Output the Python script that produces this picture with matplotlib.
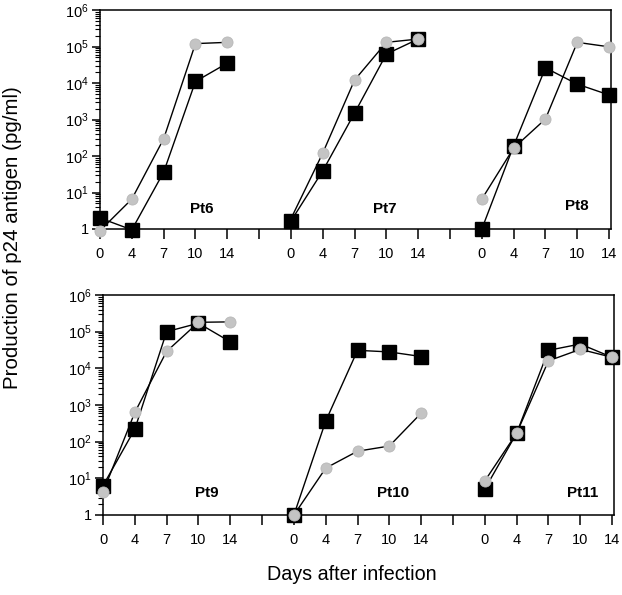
import matplotlib
matplotlib.use("Agg")
import matplotlib.pyplot as plt
import numpy as np
from matplotlib.ticker import FixedLocator, FixedFormatter, LogLocator, NullFormatter

plt.rcParams['font.family'] = ['Liberation Sans', 'DejaVu Sans']
plt.rcParams['mathtext.fontset'] = 'custom'
plt.rcParams['mathtext.rm'] = 'Liberation Sans'
plt.rcParams['mathtext.default'] = 'regular'

days = [0, 4, 7, 10, 14]
day_labels = ['0', '4', '7', '10', '14']
y_tick_values = [1, 1e1, 1e2, 1e3, 1e4, 1e5, 1e6]
y_tick_labels = ['1', '$10^1$', '$10^2$', '$10^3$', '$10^4$', '$10^5$', '$10^6$']

top_patients = ['Pt6', 'Pt7', 'Pt8']
top_black = [
    [2.0, 0.95, 36, 1.1e4, 3.5e4],
    [1.65, 39, 1500, 6.2e4, 1.6e5],
    [1.0, 190, 2.6e4, 9.3e3, 4.7e3],
]
top_gray = [
    [0.9, 6.6, 295, 1.2e5, 1.3e5],
    [1.9, 120, 1.2e4, 1.3e5, 1.6e5],
    [6.6, 165, 1030, 1.3e5, 9.8e4],
]

bottom_patients = ['Pt9', 'Pt10', 'Pt11']
bottom_black = [
    [6.3, 220, 1.0e5, 1.7e5, 5.3e4],
    [1.0, 365, 3.1e4, 2.8e4, 2.1e4],
    [5.1, 170, 3.1e4, 4.6e4, 2.0e4],
]
bottom_gray = [
    [4.2, 630, 2.9e4, 1.8e5, 1.85e5],
    [1.0, 19, 55, 76, 600],
    [8.5, 170, 1.6e4, 3.3e4, 2.0e4],
]

W, H = 622, 595
fig = plt.figure(figsize=(W / 100, H / 100), dpi=100)

def make_panel(rect, patients, black, gray, label_pos, hide_first_gray=None):
    ax = fig.add_axes(rect)
    ax.set_yscale('log')
    ax.set_ylim(1, 1e6)
    ax.set_xlim(0, 16.06)
    slots = np.arange(5)
    tick_pos, tick_lab = [], []
    for i, name in enumerate(patients):
        xs = slots + 6 * i
        ax.plot(xs, black[i], '-', color='black', lw=1.0, marker='s',
                markersize=9.5, markerfacecolor='black', markeredgecolor='black',
                clip_on=False, zorder=3)
        me = None
        if hide_first_gray is not None and i in hide_first_gray:
            me = [1, 2, 3, 4]
        ax.plot(xs, gray[i], '-', color='black', lw=1.0, marker='o',
                markersize=8, markerfacecolor='#c4c4c4', markeredgecolor='#b8b8b8',
                markeredgewidth=0.6, markevery=me, clip_on=False, zorder=4)
        tick_pos += list(xs)
        tick_lab += day_labels
        if i < len(patients) - 1:
            tick_pos.append(6 * i + 5)
            tick_lab.append('')
        lx, ly = label_pos[i]
        ax.text(lx, ly, name, transform=ax.transAxes, fontsize=11,
                fontweight='bold', ha='center', va='center')
    ax.xaxis.set_major_locator(FixedLocator(tick_pos))
    ax.xaxis.set_major_formatter(FixedFormatter(tick_lab))
    ax.yaxis.set_major_locator(FixedLocator(y_tick_values))
    ax.yaxis.set_major_formatter(FixedFormatter(y_tick_labels))
    ax.yaxis.set_minor_locator(LogLocator(base=10, subs=np.arange(2, 10), numticks=20))
    ax.yaxis.set_minor_formatter(NullFormatter())
    ax.tick_params(axis='x', direction='out', length=7, width=1.1, labelsize=10.5, pad=6)
    ax.tick_params(axis='y', which='major', direction='out', length=6, width=1.1,
                   labelsize=10.5, pad=2)
    ax.tick_params(axis='y', which='minor', direction='out', length=3.5, width=0.8)
    for s in ax.spines.values():
        s.set_linewidth(1.1)
    return ax

ax1 = make_panel([100 / W, 1 - 229 / H, 511 / W, 219 / H], top_patients, top_black, top_gray,
                 [(0.20, 0.092), (0.558, 0.092), (0.933, 0.105)], hide_first_gray=[1])
ax2 = make_panel([103 / W, 1 - 515 / H, 511 / W, 220 / H], bottom_patients, bottom_black, bottom_gray,
                 [(0.204, 0.10), (0.567, 0.10), (0.939, 0.10)])

fig.text(13 / W, 1 - 238 / H, 'Production of p24 antigen (pg/ml)', rotation=90,
         ha='center', va='center', fontsize=14.8)
fig.text(352 / W, 1 - 574 / H, 'Days after infection', ha='center', va='center', fontsize=14.2)

fig.savefig('out.png', dpi=100)
